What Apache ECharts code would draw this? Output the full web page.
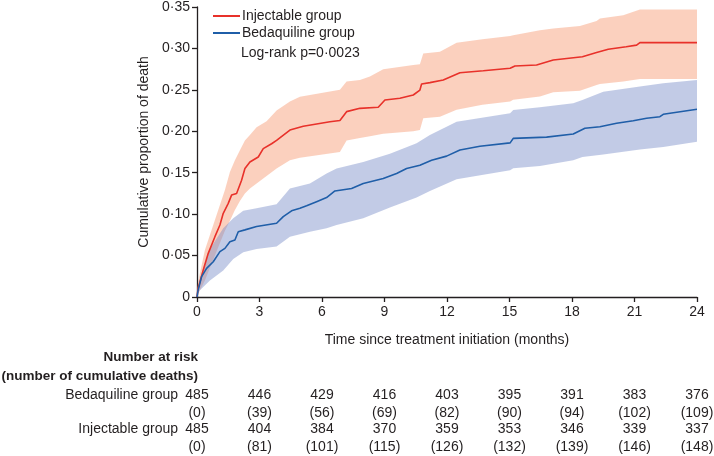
<!DOCTYPE html>
<html><head><meta charset="utf-8">
<script src="https://cdn.jsdelivr.net/npm/echarts@6/dist/echarts.min.js"></script>
<style>html,body{margin:0;padding:0;background:#fff}#c{width:714px;height:456px}</style>
</head><body><div id="c"></div>
<script>
// ---- data ----
const injLine = [[0,0],[0.05,0.01],[0.3,0.0326],[0.54,0.0527],[0.86,0.0728],[1.1,0.0869],[1.26,0.101],[1.5,0.113],[1.66,0.123],[1.9,0.125],[2.14,0.141],[2.3,0.155],[2.54,0.163],[2.94,0.169],[3.18,0.179],[3.58,0.185],[3.82,0.189],[4.46,0.2015],[5.1,0.206],[6.38,0.2116],[6.86,0.213],[7.18,0.2237],[7.82,0.2277],[8.7,0.229],[9.02,0.2378],[9.74,0.2398],[10.38,0.2438],[10.7,0.2498],[10.78,0.257],[11.18,0.2587],[11.82,0.262],[12.62,0.2707],[13.74,0.2731],[15.03,0.276],[15.26,0.2788],[16.3,0.28],[17.1,0.286],[18.5,0.29],[19.18,0.295],[19.74,0.299],[20.6,0.302],[21.1,0.304],[21.26,0.307],[24,0.307]];
const injBandT  = [0,0.14,0.38,0.7,1.02,1.34,1.58,1.82,2.06,2.3,2.54,2.86,3.34,3.82,4.46,4.94,6.86,7.18,7.82,8.3,8.94,10.38,10.7,10.86,11.66,12.46,13.7,15.03,15.18,16.46,17.1,18.38,19.18,19.34,20.46,21.26,24];
const injBandHi = [0.01,0.0286,0.0567,0.081,0.105,0.129,0.151,0.165,0.177,0.189,0.1955,0.205,0.212,0.225,0.236,0.2417,0.25,0.26,0.262,0.266,0.275,0.28,0.281,0.294,0.296,0.307,0.311,0.315,0.316,0.322,0.324,0.327,0.333,0.336,0.340,0.347,0.347];
const injBandLo = [0.002,0.008,0.02,0.04,0.06,0.08,0.092,0.105,0.116,0.125,0.131,0.137,0.146,0.155,0.165,0.168,0.175,0.189,0.192,0.194,0.197,0.2,0.2015,0.2157,0.2176,0.226,0.232,0.236,0.238,0.242,0.247,0.249,0.256,0.257,0.26,0.263,0.263];

const bdqLine = [[0,0],[0.05,0.008],[0.22,0.0245],[0.46,0.0346],[0.78,0.0426],[1.1,0.0547],[1.34,0.0587],[1.58,0.0668],[1.82,0.0688],[1.98,0.0788],[2.3,0.081],[2.86,0.085],[3.82,0.089],[4.14,0.097],[4.54,0.104],[4.94,0.107],[5.26,0.11],[5.74,0.115],[6.22,0.12],[6.62,0.128],[7.42,0.131],[7.98,0.137],[8.94,0.143],[9.58,0.149],[10.06,0.155],[10.7,0.159],[11.26,0.165],[11.98,0.17],[12.62,0.1774],[13.58,0.182],[15.03,0.186],[15.18,0.1915],[16.78,0.193],[18.06,0.1967],[18.62,0.2036],[19.34,0.2055],[20.14,0.2096],[20.94,0.2128],[21.58,0.2157],[22.22,0.2176],[22.38,0.2205],[24,0.2265]];
const bdqBandT  = [0,0.14,0.62,1.26,1.74,2.22,2.86,3.82,4.46,5.42,6.22,6.7,7.98,9.26,10.54,11.18,12.46,15.03,15.18,16.46,18.06,18.5,19.5,21.26,22.38,24];
const bdqBandHi = [0.005,0.022,0.058,0.083,0.095,0.104,0.107,0.112,0.131,0.137,0.149,0.155,0.163,0.173,0.1855,0.1955,0.2116,0.2217,0.2257,0.229,0.2337,0.2378,0.2478,0.254,0.258,0.262];
const bdqBandLo = [0.002,0.008,0.02,0.032,0.046,0.054,0.058,0.061,0.0728,0.0788,0.083,0.0869,0.095,0.108,0.12,0.128,0.142,0.153,0.1555,0.158,0.165,0.169,0.172,0.178,0.181,0.1875];

const riskMonths = [0,3,6,9,12,15,18,21,24];
const bdqAtRisk = [485,446,429,416,403,395,391,383,376];
const bdqDeaths = [0,39,56,69,82,90,94,102,109];
const injAtRisk = [485,404,384,370,359,353,346,339,337];
const injDeaths = [0,81,101,115,126,132,139,146,148];

const seriesNames = ['Injectable group','Bedaquiline group'];
const pValueText = 'Log-rank p=0·0023';
const xAxisTitle = 'Time since treatment initiation (months)';
const yAxisTitle = 'Cumulative proportion of death';
const riskHeading1 = 'Number at risk';
const riskHeading2 = '(number of cumulative deaths)';

// ---- styles ----
const FONT = 'Liberation Sans';
const TXT = '#231f20';
const RED = '#e8312a', BLUE = '#1f5ea8';
const RED_BAND = 'rgba(246,150,110,0.45)', BLUE_BAND = 'rgba(120,140,200,0.45)';

function bandData(T, lo, hi){ return T.map((t,i)=>[t, lo[i], hi[i]]); }
function bandRender(color){
  return function(params, api){
    if (params.dataIndexInside !== 0) return;
    const n = params.dataInsideLength;
    const top = [], bot = [];
    for (let i=0;i<n;i++){
      const t = api.value(0,i);
      top.push(api.coord([t, api.value(2,i)]));
      bot.push(api.coord([t, api.value(1,i)]));
    }
    return {type:'polygon', shape:{points: top.concat(bot.reverse())}, style:{fill:color}, silent:true};
  };
}
function fmt(v){ return v===0 ? '0' : v.toFixed(2).replace('.', '·'); }

const chart = echarts.init(document.getElementById('c'), null, {renderer:'canvas'});
const option = {
  animation:false,
  textStyle:{fontFamily:FONT, color:TXT},
  grid:{left:197, right:17, top:7, bottom:159, containLabel:false},
  legend:{
    orient:'vertical', left:208, top:4, itemGap:3, itemWidth:27, itemHeight:2,
    icon:'rect', data:seriesNames,
    textStyle:{fontFamily:FONT, fontSize:14, color:TXT, padding:[0,0,0,-3]}
  },
  xAxis:{
    type:'value', min:0, max:24, interval:3,
    name:xAxisTitle, nameLocation:'middle', nameGap:36,
    nameTextStyle:{fontFamily:FONT, fontSize:14, color:TXT},
    axisLine:{lineStyle:{color:TXT, width:1.3}},
    axisTick:{length:5, lineStyle:{color:TXT, width:1.3}},
    axisLabel:{fontFamily:FONT, fontSize:14, color:TXT, margin:8},
    splitLine:{show:false}
  },
  yAxis:{
    type:'value', min:0, max:0.35, interval:0.05,
    name:yAxisTitle, nameLocation:'middle', nameGap:45,
    nameTextStyle:{fontFamily:FONT, fontSize:14, color:TXT},
    axisLine:{show:true, lineStyle:{color:TXT, width:1.3}},
    axisTick:{show:true, length:5, lineStyle:{color:TXT, width:1.3}},
    axisLabel:{fontFamily:FONT, fontSize:14, color:TXT, margin:7, formatter:fmt},
    splitLine:{show:false}
  },
  series:[
    {type:'custom', name:'injBand', data:bandData(injBandT,injBandLo,injBandHi), renderItem:bandRender(RED_BAND), encode:{x:0,y:[1,2]}, z:1, silent:true},
    {type:'custom', name:'bdqBand', data:bandData(bdqBandT,bdqBandLo,bdqBandHi), renderItem:bandRender(BLUE_BAND), encode:{x:0,y:[1,2]}, z:1, silent:true},
    {type:'line', name:seriesNames[0], data:injLine, showSymbol:false, color:RED, lineStyle:{color:RED, width:1.6}, z:3},
    {type:'line', name:seriesNames[1], data:bdqLine, showSymbol:false, color:BLUE, lineStyle:{color:BLUE, width:1.6}, z:3}
  ],
  graphic:[]
};
chart.setOption(option);

const gfx = [];
const f14 = '14px "'+FONT+'"';
const f14b = 'bold 13.5px "'+FONT+'"';
gfx.push({type:'text', x:241, y:53, style:{text:pValueText, font:f14, fill:TXT, textAlign:'left', textVerticalAlign:'middle', verticalAlign:'middle'}});
gfx.push({type:'text', x:198, y:357, style:{text:riskHeading1, font:f14b, fill:TXT, textAlign:'right', textVerticalAlign:'middle', verticalAlign:'middle'}});
gfx.push({type:'text', x:198, y:376, style:{text:riskHeading2, font:f14b, fill:TXT, textAlign:'right', textVerticalAlign:'middle', verticalAlign:'middle'}});
gfx.push({type:'text', x:178, y:395, style:{text:seriesNames[1], font:f14, fill:TXT, textAlign:'right', textVerticalAlign:'middle', verticalAlign:'middle'}});
gfx.push({type:'text', x:178, y:429, style:{text:seriesNames[0], font:f14, fill:TXT, textAlign:'right', textVerticalAlign:'middle', verticalAlign:'middle'}});
const rowsY = [395, 413, 429, 447];
const rows = [bdqAtRisk, bdqDeaths.map(d=>'('+d+')'), injAtRisk, injDeaths.map(d=>'('+d+')')];
riskMonths.forEach((m,i)=>{
  const px = chart.convertToPixel({xAxisIndex:0}, m);
  rows.forEach((r,k)=>{
    gfx.push({type:'text', x:px, y:rowsY[k], style:{text:String(r[i]), font:f14, fill:TXT, textAlign:'center', textVerticalAlign:'middle', verticalAlign:'middle'}});
  });
});
chart.setOption({graphic:gfx});
</script></body></html>
